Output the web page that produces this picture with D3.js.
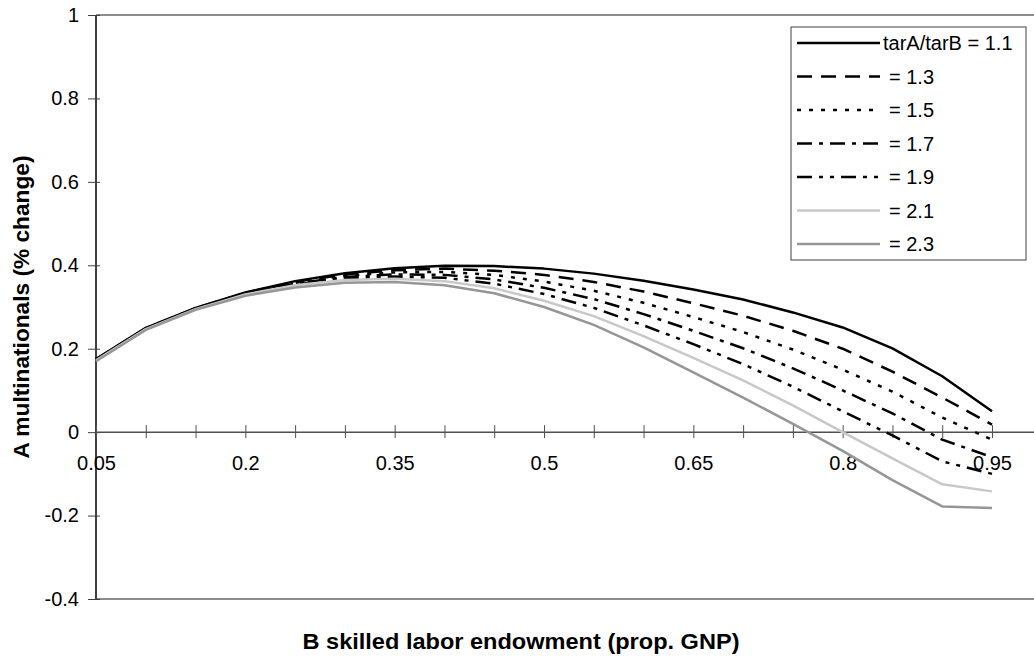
<!DOCTYPE html>
<html lang="en">
<head>
  <meta charset="UTF-8">
  <title>A multinationals vs B skilled labor endowment</title>
  <script src="https://d3js.org/d3.v7.min.js"></script>
  <style>
    body { margin: 0; background: #fff; }
    svg { display: block; font-family: "Liberation Sans", Arial, sans-serif; }
    .tick-label { font-size: 20px; fill: #000; }
    .axis-title { font-size: 22px; font-weight: bold; fill: #000; }
    .legend-text { font-size: 20px; fill: #000; }
  </style>
</head>
<body>
  <svg width="1034" height="658"></svg>

  <script>
    // categorias del eje x
    const endowment = [0.05, 0.1, 0.15, 0.2, 0.25, 0.3, 0.35, 0.4, 0.45, 0.5,
                       0.55, 0.6, 0.65, 0.7, 0.75, 0.8, 0.85, 0.9, 0.95];

    // series
    const tar11 = [0.175, 0.250, 0.298, 0.335, 0.362, 0.381, 0.393, 0.399, 0.398, 0.392,
                   0.380, 0.363, 0.342, 0.318, 0.287, 0.251, 0.201, 0.134, 0.050];
    const tar13 = [0.175, 0.249, 0.297, 0.334, 0.360, 0.378, 0.388, 0.392, 0.387, 0.377,
                   0.360, 0.337, 0.309, 0.279, 0.243, 0.200, 0.145, 0.083, 0.018];
    const tar15 = [0.174, 0.249, 0.297, 0.333, 0.358, 0.375, 0.383, 0.384, 0.377, 0.361,
                   0.339, 0.310, 0.276, 0.240, 0.198, 0.150, 0.097, 0.035, -0.018];
    const tar17 = [0.174, 0.248, 0.296, 0.332, 0.356, 0.372, 0.378, 0.377, 0.366, 0.346,
                   0.319, 0.283, 0.243, 0.201, 0.153, 0.100, 0.045, -0.018, -0.060];
    const tar19 = [0.173, 0.248, 0.296, 0.331, 0.354, 0.368, 0.373, 0.370, 0.356, 0.331,
                   0.298, 0.256, 0.211, 0.163, 0.109, 0.050, -0.008, -0.070, -0.100];
    const tar21 = [0.172, 0.247, 0.295, 0.330, 0.352, 0.365, 0.368, 0.362, 0.345, 0.315,
                   0.278, 0.230, 0.178, 0.124, 0.064, 0.000, -0.063, -0.125, -0.142];
    const tar23 = [0.170, 0.245, 0.293, 0.327, 0.347, 0.358, 0.360, 0.352, 0.333, 0.300,
                   0.257, 0.203, 0.143, 0.083, 0.020, -0.045, -0.115, -0.178, -0.182];

    const seriesNames = ["tarA/tarB = 1.1", "= 1.3", "= 1.5", "= 1.7", "= 1.9", "= 2.1", "= 2.3"];
    const seriesData = [tar11, tar13, tar15, tar17, tar19, tar21, tar23];

    const yTicks = [1, 0.8, 0.6, 0.4, 0.2, 0, -0.2, -0.4];
    const xLabelTicks = [0.05, 0.2, 0.35, 0.5, 0.65, 0.8, 0.95];

    // estilos de linea
    const styles = [
      { color: "#000", width: 2.5, dash: null },
      { color: "#000", width: 2.5, dash: "15,9" },
      { color: "#000", width: 2.5, dash: "4,8" },
      { color: "#000", width: 2.5, dash: "15,7,4,7" },
      { color: "#000", width: 2.5, dash: "15,7,4,7,4,7" },
      { color: "#c8c8c8", width: 2.5, dash: null },
      { color: "#969696", width: 2.5, dash: null }
    ];

    const svg = d3.select("svg");
    const plotLeft = 96, plotRight = 1034, plotTop = 15, plotBottom = 599;

    const x = d3.scaleLinear().domain([0.05, 0.95]).range([96, 992]);
    const y = d3.scaleLinear().domain([-0.4, 1]).range([plotBottom, plotTop]);

    // borde superior e inferior del area del grafico
    svg.append("line")
      .attr("x1", plotLeft).attr("x2", plotRight).attr("y1", plotTop).attr("y2", plotTop)
      .attr("stroke", "#8c8c8c").attr("stroke-width", 2);
    svg.append("line")
      .attr("x1", plotLeft).attr("x2", plotRight).attr("y1", plotBottom).attr("y2", plotBottom)
      .attr("stroke", "#8c8c8c").attr("stroke-width", 2);

    // eje y
    const yAxis = svg.append("g").attr("transform", `translate(${plotLeft},0)`)
      .call(d3.axisLeft(y).tickValues(yTicks).tickSize(8).tickPadding(8)
        .tickFormat(d => String(+d.toFixed(1))));
    yAxis.select(".domain").attr("stroke", "#404040").attr("stroke-width", 2)
      .attr("d", `M0,${plotTop}V${plotBottom}`);
    yAxis.selectAll(".tick line").attr("stroke", "#404040").attr("x2", -8).attr("x1", 4);
    yAxis.selectAll(".tick text").attr("class", "tick-label").attr("x", -17)
      .style("font-size", "20px").style("font-family", "'Liberation Sans', Arial, sans-serif");

    // eje x en cero
    const xAxis = svg.append("g").attr("transform", `translate(0,${y(0)})`)
      .call(d3.axisBottom(x).tickValues(endowment).tickSize(6)
        .tickFormat(d => xLabelTicks.some(v => Math.abs(v - d) < 1e-9) ? String(d) : ""));
    xAxis.select(".domain").attr("stroke", "#505050").attr("stroke-width", 1.5)
      .attr("d", `M${plotLeft},0H${plotRight}`);
    xAxis.selectAll(".tick line").attr("stroke", "#505050").attr("y1", -7).attr("y2", 6);
    xAxis.selectAll(".tick text").attr("class", "tick-label").attr("y", 24)
      .style("font-size", "20px").style("font-family", "'Liberation Sans', Arial, sans-serif");

    // lineas de las series
    const line = d3.line()
      .x((d, i) => x(endowment[i]))
      .y(d => y(d));

    seriesData.forEach((s, k) => {
      svg.append("path")
        .datum(s)
        .attr("fill", "none")
        .attr("stroke", styles[k].color)
        .attr("stroke-width", styles[k].width)
        .attr("stroke-dasharray", styles[k].dash)
        .attr("stroke-linejoin", "round")
        .attr("d", line);
    });

    // leyenda
    const legend = svg.append("g");
    legend.append("rect")
      .attr("x", 791).attr("y", 27).attr("width", 235).attr("height", 233)
      .attr("fill", "#fff").attr("stroke", "#404040").attr("stroke-width", 1);

    seriesNames.forEach((name, k) => {
      const ly = 43 + k * 33.5;
      legend.append("line")
        .attr("x1", 797).attr("x2", 880).attr("y1", ly).attr("y2", ly)
        .attr("stroke", styles[k].color)
        .attr("stroke-width", styles[k].width)
        .attr("stroke-dasharray", styles[k].dash);
      legend.append("text")
        .attr("class", "legend-text")
        .attr("x", k === 0 ? 883 : 889)
        .attr("y", ly)
        .attr("dy", "0.35em")
        .text(name);
    });

    // titulos de ejes
    svg.append("text")
      .attr("class", "axis-title")
      .attr("x", 521).attr("y", 649)
      .attr("text-anchor", "middle")
      .attr("textLength", 437)
      .attr("lengthAdjust", "spacingAndGlyphs")
      .text("B skilled labor endowment (prop. GNP)");

    svg.append("text")
      .attr("class", "axis-title")
      .attr("transform", `translate(21,${(plotTop + plotBottom) / 2}) rotate(-90)`)
      .attr("text-anchor", "middle")
      .attr("dy", "0.35em")
      .attr("textLength", 303)
      .attr("lengthAdjust", "spacingAndGlyphs")
      .text("A multinationals (% change)");
  </script>
</body>
</html>
